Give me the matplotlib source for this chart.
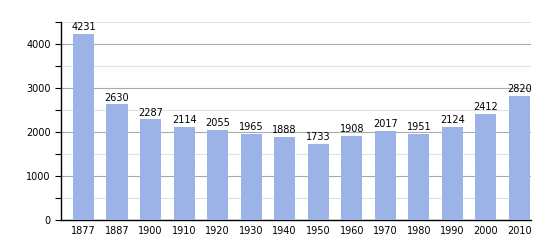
import matplotlib
matplotlib.use("Agg")
import matplotlib.pyplot as plt
from matplotlib.ticker import MultipleLocator

years = ["1877", "1887", "1900", "1910", "1920", "1930", "1940", "1950",
         "1960", "1970", "1980", "1990", "2000", "2010"]
population = [4231, 2630, 2287, 2114, 2055, 1965, 1888, 1733,
              1908, 2017, 1951, 2124, 2412, 2820]

fig = plt.figure(figsize=(5.5, 2.5), dpi=100)
ax = fig.add_axes([0.111, 0.12, 0.854, 0.792])
x = list(range(len(years)))
ax.bar(x, population, width=0.63, color="#9bb3e6", zorder=3)
for xi, v in zip(x, population):
    ax.text(xi, v + 40, str(v), ha="center", va="bottom", fontsize=7, zorder=4)

ax.set_xlim(-0.67, 13.34)
ax.set_ylim(0, 4500)
ax.yaxis.set_major_locator(MultipleLocator(1000))
ax.yaxis.set_minor_locator(MultipleLocator(500))
ax.grid(axis="y", which="major", color="#aaaaaa", linewidth=0.8, zorder=0)
ax.grid(axis="y", which="minor", color="#e0e0e0", linewidth=0.8, zorder=0)
ax.set_xticks(x)
ax.set_xticklabels(years)
ax.tick_params(axis="x", length=0, labelsize=7, pad=4)
ax.tick_params(axis="y", which="major", length=4, labelsize=7, width=0.8)
ax.tick_params(axis="y", which="minor", length=4, width=0.8)
for s in ["top", "right"]:
    ax.spines[s].set_visible(False)
ax.spines["left"].set_linewidth(1)
ax.spines["bottom"].set_linewidth(1)
fig.savefig("out.png", dpi=100)
